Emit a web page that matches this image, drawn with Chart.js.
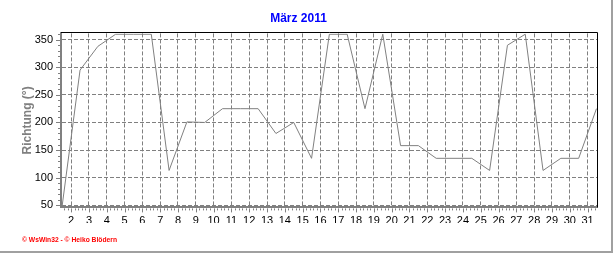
<!DOCTYPE html>
<html>
<head>
<meta charset="UTF-8">
<title>März 2011</title>
<script src="https://cdn.jsdelivr.net/npm/chart.js@4.4.0/dist/chart.umd.min.js"></script>
<style>
  html, body { margin: 0; padding: 0; background: #fff; }
  #wrap { width: 616px; height: 253px; }
</style>
<script>
// Windrichtung, Tageswerte März 2011
const days = [1, 2, 3, 4, 5, 6, 7, 8, 9, 10, 11, 12, 13, 14, 15, 16, 17, 18, 19, 20, 21, 22, 23, 24, 25, 26, 27, 28, 29, 30, 31];
const direction = [50, 295, 338, 360, 360, 360, 113, 201, 200, 225, 225, 225, 180, 200, 135, 360, 360, 225, 360, 158, 158, 135, 135, 135, 113, 340, 360, 113, 135, 135, 225];
const xTickLabels = [2, 3, 4, 5, 6, 7, 8, 9, 10, 11, 12, 13, 14, 15, 16, 17, 18, 19, 20, 21, 22, 23, 24, 25, 26, 27, 28, 29, 30, 31];
const yTickLabels = [50, 100, 150, 200, 250, 300, 350];
const footerText = '© WsWin32 - © Heiko Blödern';

// Tagesmittel liegt in der Mitte des Tages
const points = days.map((d, i) => ({ x: d + 0.5, y: direction[i] }));

// Rahmen, kleine Striche, Fußzeile
const framePlugin = {
    id: 'frame',
    afterDraw(chart) {
        const ctx = chart.ctx;
        const a = chart.chartArea;
        const xs = chart.scales.x, ys = chart.scales.y;
        ctx.save();
        // schwarzer Rahmen oben / rechts
        ctx.strokeStyle = '#000';
        ctx.lineWidth = 1;
        ctx.beginPath();
        ctx.moveTo(a.left, Math.round(a.top) - 0.5);
        ctx.lineTo(Math.round(a.right) + 0.5, Math.round(a.top) - 0.5);
        ctx.lineTo(Math.round(a.right) + 0.5, a.bottom);
        ctx.stroke();
        // Striche an der y-Achse
        ctx.strokeStyle = '#808080';
        for (let v = 50; v <= 360; v += 10) {
            const y = Math.round(ys.getPixelForValue(v)) + 0.5;
            const len = v % 50 === 0 ? 4 : 2;
            ctx.beginPath();
            ctx.moveTo(a.left - 1 - len, y);
            ctx.lineTo(a.left - 1, y);
            ctx.stroke();
        }
        // Striche an der x-Achse
        for (let k = 8; k <= 157; k++) {
            const v = k / 5;
            const x = Math.round(xs.getPixelForValue(v)) + 0.5;
            if (x < a.left + 2 || x > a.right) continue;
            const len = k % 5 === 0 ? 4 : 2;
            ctx.beginPath();
            ctx.moveTo(x, a.bottom + 1);
            ctx.lineTo(x, a.bottom + 1 + len);
            ctx.stroke();
        }
        // Fußzeile
        ctx.fillStyle = '#ff0000';
        ctx.font = 'bold 8px "Liberation Sans", Arial, sans-serif';
        ctx.textBaseline = 'middle';
        ctx.textAlign = 'left';
        ctx.fillText(footerText, 22, 239.5, 95);
        // grauer Schatten rechts / unten
        ctx.fillStyle = '#a0a0a0';
        ctx.fillRect(611, 0, 2, 253);
        ctx.fillRect(0, 251, 613, 2);
        ctx.restore();
    }
};

window.addEventListener('load', function () {
    Chart.defaults.font.family = '"Liberation Sans", Arial, sans-serif';
    const ctx = document.getElementById('windChart');
    new Chart(ctx, {
        type: 'line',
        data: {
            datasets: [{
                label: 'Richtung',
                data: points,
                borderColor: '#808080',
                borderWidth: 1,
                pointRadius: 0,
                fill: false,
                tension: 0
            }]
        },
        options: {
            responsive: false,
            animation: false,
            layout: { padding: { left: 0, right: 19, top: 0, bottom: 30 } },
            plugins: {
                legend: { display: false },
                tooltip: { enabled: false },
                title: {
                    display: true,
                    text: 'März 2011',
                    color: '#0000ff',
                    font: { size: 12, weight: 'bold' },
                    padding: { top: 11, bottom: 8 }
                }
            },
            scales: {
                x: {
                    type: 'linear',
                    min: 1.43,
                    max: 31.53,
                    afterBuildTicks: s => { s.ticks = xTickLabels.map(v => ({ value: v })); },
                    afterFit: s => { s.height = 253 - 30 - 207.4; },
                    grid: { color: '#808080', lineWidth: 1, drawTicks: false },
                    border: { display: true, color: '#808080', width: 2, dash: [4, 2] },
                    ticks: {
                        color: '#000', font: { size: 11 }, padding: 7,
                        maxRotation: 0, autoSkip: false,
                        callback: v => String(v)
                    }
                },
                y: {
                    min: 46,
                    max: 361.5,
                    afterBuildTicks: s => { s.ticks = yTickLabels.map(v => ({ value: v })); },
                    afterFit: s => { s.width = 61; },
                    grid: { color: '#808080', lineWidth: 1, drawTicks: false },
                    border: { display: true, color: '#808080', width: 2, dash: [4, 2] },
                    ticks: { color: '#000', font: { size: 11 }, padding: 8, callback: v => String(v) },
                    title: {
                        display: true,
                        text: 'Richtung (°)',
                        color: '#808080',
                        font: { size: 12, weight: 'bold' },
                        padding: { top: 20, bottom: 0 }
                    }
                }
            }
        },
        plugins: [framePlugin]
    });
});
</script>
</head>
<body>
<div id="wrap"><canvas id="windChart" width="616" height="253"></canvas></div>
</body>
</html>
